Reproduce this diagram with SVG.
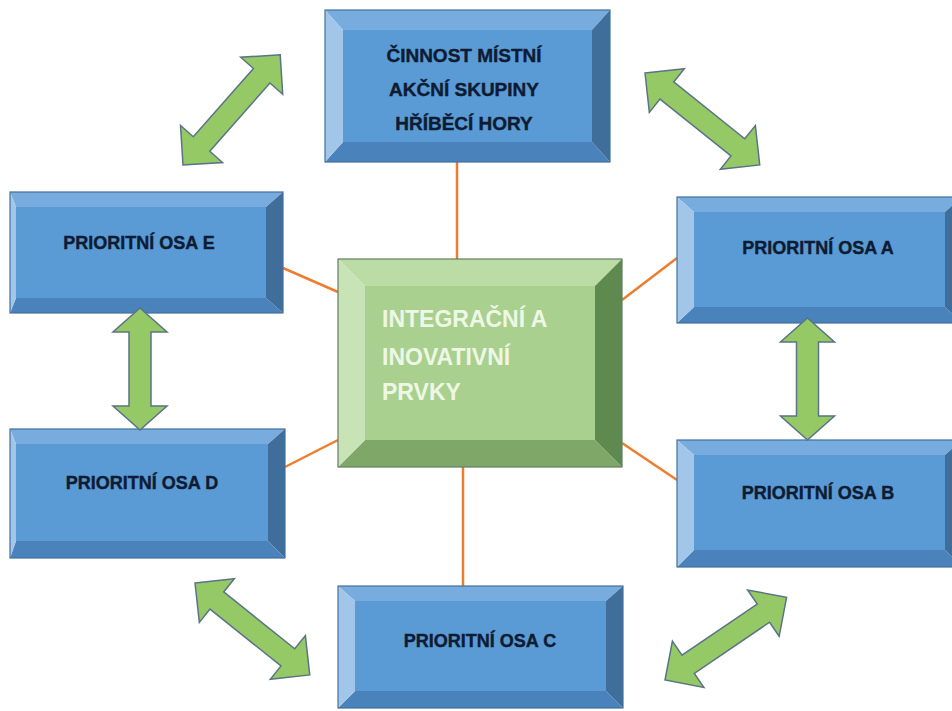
<svg xmlns="http://www.w3.org/2000/svg" width="952" height="711" viewBox="0 0 952 711">
<defs>
<style>
.face{fill:#5b9bd5}
.bt{fill:#78acdf}
.bl{fill:#a2c5ea}
.br{fill:#3f6e9b}
.bb{fill:#4a83bc}
.ol{fill:none;stroke:#41719c;stroke-width:1.2}
.gface{fill:#a9d08e}
.gbt{fill:#bbdca4}
.gbl{fill:#c8e3b6}
.gbr{fill:#5e8a4f}
.gbb{fill:#7fa868}
.gol{fill:none;stroke:#5f7f63;stroke-width:1.2}
.lbl{font-family:"Liberation Sans",Arial,sans-serif;font-weight:bold;font-size:18px;fill:#0e1c33;stroke:#0e1c33;stroke-width:0.4;text-anchor:middle}
.tlbl{font-family:"Liberation Sans",Arial,sans-serif;font-weight:bold;font-size:19px;fill:#0e1c33;stroke:#0e1c33;stroke-width:0.4;text-anchor:middle}
.clbl{font-family:"Liberation Sans",Arial,sans-serif;font-weight:bold;font-size:23px;fill:#eef7e6}
.conn{stroke:#ed7d31;stroke-width:2.5;fill:none}
.arr{fill:#95c966;stroke:#5b7386;stroke-width:1.5;stroke-linejoin:miter}
</style>
<path id="darr" d="M0,0 L28,-28 L28,-11 L119,-11 L119,-28 L147,0 L119,28 L119,11 L28,11 L28,28 Z"/>
<path id="varr" d="M0,0 L24,-27 L24,-11 L98,-11 L98,-27 L122,0 L98,27 L98,11 L24,11 L24,27 Z"/>
</defs>
<rect width="952" height="711" fill="#ffffff"/>

<g id="connectors">
<line class="conn" x1="457" y1="162" x2="457" y2="259"/>
<line class="conn" x1="463" y1="467" x2="463" y2="586"/>
<line class="conn" x1="283" y1="268" x2="338" y2="292"/>
<line class="conn" x1="622" y1="300" x2="677" y2="258"/>
<line class="conn" x1="285" y1="467" x2="338" y2="440"/>
<line class="conn" x1="622" y1="443" x2="677" y2="480"/>
</g>

<g id="node-top">
<rect class="face" x="343" y="30" width="249" height="112"/>
<polygon class="bt" points="325,10 610,10 592,30 343,30"/>
<polygon class="bb" points="325,162 610,162 592,142 343,142"/>
<polygon class="bl" points="325,10 343,30 343,142 325,162"/>
<polygon class="br" points="610,10 592,30 592,142 610,162"/>
<rect class="ol" x="325" y="10" width="285" height="152"/>
<text class="tlbl" x="464" y="62">ČINNOST MÍSTNÍ</text>
<text class="tlbl" x="464" y="96">AKČNÍ SKUPINY</text>
<text class="tlbl" x="464" y="130">HŘÍBĚCÍ HORY</text>
</g>

<g id="node-e">
<rect class="face" x="16" y="207" width="250" height="91"/>
<polygon class="bt" points="10,192 283,192 266,207 16,207"/>
<polygon class="bb" points="10,313 283,313 266,298 16,298"/>
<polygon class="bl" points="10,192 16,207 16,298 10,313"/>
<polygon class="br" points="283,192 266,207 266,298 283,313"/>
<rect class="ol" x="10" y="192" width="273" height="121"/>
<text class="lbl" x="139" y="249">PRIORITNÍ OSA E</text>
</g>

<g id="node-d">
<rect class="face" x="16" y="444" width="252" height="97"/>
<polygon class="bt" points="10,429 285,429 268,444 16,444"/>
<polygon class="bb" points="10,558 285,558 268,541 16,541"/>
<polygon class="bl" points="10,429 16,444 16,541 10,558"/>
<polygon class="br" points="285,429 268,444 268,541 285,558"/>
<rect class="ol" x="10" y="429" width="275" height="129"/>
<text class="lbl" x="142" y="489">PRIORITNÍ OSA D</text>
</g>

<g id="node-a">
<rect class="face" x="694" y="212" width="251" height="95"/>
<polygon class="bt" points="677,197 962,197 945,212 694,212"/>
<polygon class="bb" points="677,323 962,323 945,307 694,307"/>
<polygon class="bl" points="677,197 694,212 694,307 677,323"/>
<polygon class="br" points="962,197 945,212 945,307 962,323"/>
<rect class="ol" x="677" y="197" width="285" height="126"/>
<text class="lbl" x="818" y="254">PRIORITNÍ OSA A</text>
</g>

<g id="node-b">
<rect class="face" x="694" y="455" width="251" height="95"/>
<polygon class="bt" points="677,440 962,440 945,455 694,455"/>
<polygon class="bb" points="677,567 962,567 945,550 694,550"/>
<polygon class="bl" points="677,440 694,455 694,550 677,567"/>
<polygon class="br" points="962,440 945,455 945,550 962,567"/>
<rect class="ol" x="677" y="440" width="285" height="127"/>
<text class="lbl" x="818" y="499">PRIORITNÍ OSA B</text>
</g>

<g id="node-c">
<rect class="face" x="355" y="601" width="251" height="90"/>
<polygon class="bt" points="338,586 623,586 606,601 355,601"/>
<polygon class="bb" points="338,708 623,708 606,691 355,691"/>
<polygon class="bl" points="338,586 355,601 355,691 338,708"/>
<polygon class="br" points="623,586 606,601 606,691 623,708"/>
<rect class="ol" x="338" y="586" width="285" height="122"/>
<text class="lbl" x="480" y="647">PRIORITNÍ OSA C</text>
</g>

<g id="node-center">
<rect class="gface" x="365" y="286" width="230" height="154"/>
<polygon class="gbt" points="338,259 622,259 595,286 365,286"/>
<polygon class="gbb" points="338,467 622,467 595,440 365,440"/>
<polygon class="gbl" points="338,259 365,286 365,440 338,467"/>
<polygon class="gbr" points="622,259 595,286 595,440 622,467"/>
<rect class="gol" x="338" y="259" width="284" height="208"/>
<text class="clbl" x="382" y="327">INTEGRAČNÍ A</text>
<text class="clbl" x="382" y="365">INOVATIVNÍ</text>
<text class="clbl" x="382" y="400">PRVKY</text>
</g>

<g id="arrows">
<use href="#darr" class="arr" transform="translate(183,165) rotate(-48.6)"/>
<use href="#darr" class="arr" transform="translate(645,73) rotate(38.7)"/>
<use href="#darr" class="arr" transform="translate(195,583) rotate(38.7)"/>
<use href="#darr" class="arr" transform="translate(665,680) rotate(-34.2)"/>
<use href="#varr" class="arr" transform="translate(140,308) rotate(90)"/>
<use href="#varr" class="arr" transform="translate(807.5,318) rotate(90)"/>
</g>
</svg>
